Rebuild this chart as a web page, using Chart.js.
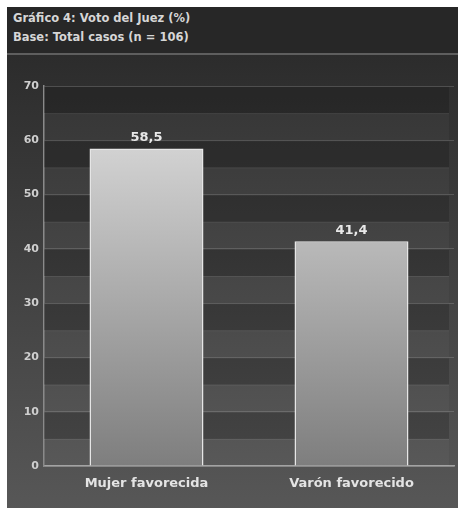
<!DOCTYPE html>
<html>
<head>
<meta charset="utf-8">
<script src="https://cdn.jsdelivr.net/npm/chart.js@4/dist/chart.umd.min.js"></script>
<style>
  body { margin: 0; background: #fff; }
  #wrap { position: absolute; left: 7px; top: 7px; width: 451px; height: 501px; }
  #head {
    height: 46px; background: #272727; color: #d6d6d6;
    font: bold 11.5px "DejaVu Sans", sans-serif;
    padding: 2px 0 0 6px; box-sizing: border-box; line-height: 19px;
  }
  #sep { height: 2px; background: #5e5e5e; }
  #panel { position: relative; height: 453px; background: linear-gradient(#2c2c2c, #575757); }
</style>
</head>
<body>
<div id="wrap">
  <div id="head">Gráfico 4: Voto del Juez (%)<br>Base: Total casos (n = 106)</div>
  <div id="sep"></div>
  <div id="panel"><canvas id="chart" width="451" height="453"></canvas></div>
</div>
<script>
// data
const categories = ['Mujer favorecida', 'Varón favorecido']
const votes = [58.5, 41.4]
const voteLabels = ['58,5', '41,4']
const yMax = 70
const yStep = 10

// alternating horizontal stripes behind the bars
const bands = {
  id: 'bands',
  beforeDatasetsDraw(chart) {
    const { ctx, chartArea, scales } = chart
    const y = scales.y
    const w = chartArea.right - chartArea.left - 5
    ctx.save()
    for (let v = 0; v < yMax; v += 5) {
      const top = y.getPixelForValue(v + 5)
      const bot = y.getPixelForValue(v)
      ctx.fillStyle = (v % 10 === 5) ? 'rgba(0,0,0,0.17)' : 'rgba(255,255,255,0.03)'
      ctx.fillRect(chartArea.left, top, w, bot - top)
      ctx.fillStyle = 'rgba(255,255,255,0.07)'
      ctx.fillRect(chartArea.left, top, w, 1)
    }
    ctx.restore()
  }
}

// values above the bars
const valueLabels = {
  id: 'valueLabels',
  afterDatasetsDraw(chart) {
    const { ctx } = chart
    const meta = chart.getDatasetMeta(0)
    ctx.save()
    ctx.font = 'bold 13px "DejaVu Sans", sans-serif'
    ctx.fillStyle = '#e8e8e8'
    ctx.textAlign = 'center'
    ctx.textBaseline = 'middle'
    meta.data.forEach((bar, i) => {
      ctx.fillText(voteLabels[i], bar.x, bar.y - 11)
    })
    ctx.restore()
  }
}

new Chart(document.getElementById('chart'), {
  type: 'bar',
  data: {
    labels: categories,
    datasets: [{
      data: votes,
      backgroundColor: function(c) {
        const area = c.chart.chartArea
        if (!area) return '#bbb'
        const g = c.chart.ctx.createLinearGradient(0, area.top, 0, area.bottom)
        g.addColorStop(0, '#e2e2e2')
        g.addColorStop(1, '#7e7e7e')
        return g
      },
      borderColor: '#e6e6e6',
      borderWidth: 1.5,
      barPercentage: 0.556,
      categoryPercentage: 1
    }]
  },
  options: {
    responsive: false,
    animation: false,
    layout: { padding: { top: 31, right: 4, left: 0, bottom: 0 } },
    plugins: { legend: { display: false }, tooltip: { enabled: false } },
    scales: {
      x: {
        grid: { display: false },
        border: { color: '#a0a0a0', width: 1.5 },
        ticks: {
          color: '#e4e4e4', padding: 2,
          font: { family: '"DejaVu Sans", sans-serif', size: 13, weight: 'bold' }
        },
        afterFit(s) { s.height = 42 }
      },
      y: {
        min: 0, max: yMax,
        ticks: {
          stepSize: yStep, color: '#cfcfcf', padding: 5,
          font: { family: '"DejaVu Sans", sans-serif', size: 11, weight: 'bold' }
        },
        grid: { color: 'rgba(255,255,255,0.16)', drawTicks: false },
        border: { color: '#8a8a8a', width: 1.5 },
        afterFit(s) { s.width = 37 }
      }
    }
  },
  plugins: [bands, valueLabels]
})
</script>
</body>
</html>
